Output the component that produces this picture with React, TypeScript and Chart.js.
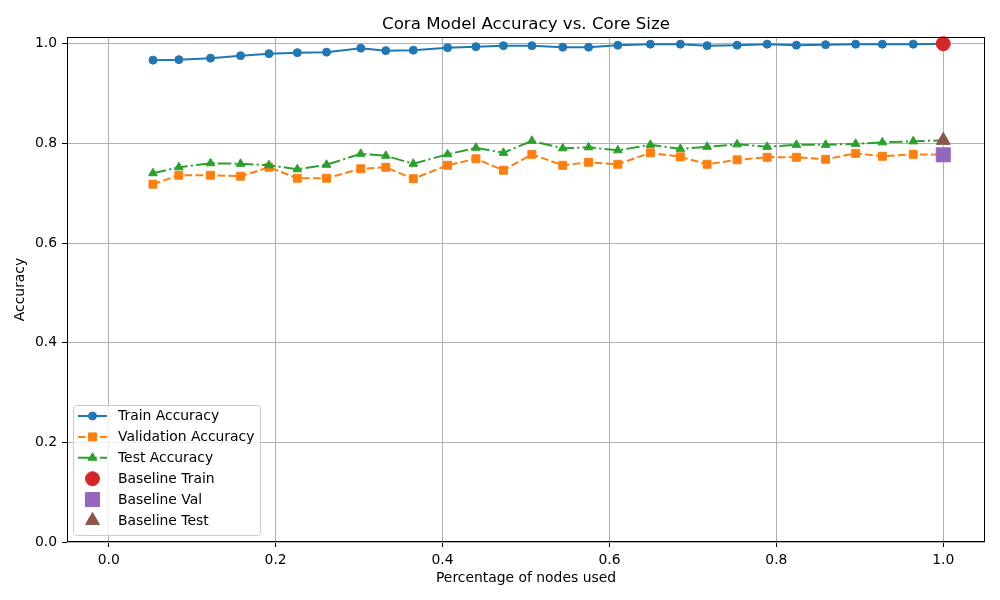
import React, { useEffect, useRef } from 'react';
import { Chart, registerables } from 'chart.js';
import { drawPoint } from 'chart.js/helpers';

Chart.register(...registerables);

const coreFractions = [0.053, 0.084, 0.122, 0.158, 0.192, 0.226, 0.261, 0.302, 0.332, 0.365, 0.406, 0.440, 0.473, 0.507, 0.544, 0.575, 0.610, 0.649, 0.685, 0.717, 0.753, 0.789, 0.824, 0.859, 0.895, 0.927, 0.964, 1.0];
const trainAcc = [0.967, 0.968, 0.971, 0.976, 0.980, 0.982, 0.983, 0.991, 0.986, 0.987, 0.992, 0.994, 0.996, 0.996, 0.993, 0.993, 0.997, 0.999, 0.999, 0.996, 0.997, 0.999, 0.997, 0.998, 0.999, 0.999, 0.999, 1.0];
const valAcc = [0.718, 0.736, 0.736, 0.734, 0.752, 0.730, 0.730, 0.749, 0.752, 0.729, 0.756, 0.769, 0.746, 0.778, 0.756, 0.762, 0.758, 0.781, 0.773, 0.758, 0.767, 0.772, 0.772, 0.768, 0.780, 0.774, 0.778, 0.777];
const testAcc = [0.740, 0.752, 0.760, 0.759, 0.756, 0.748, 0.757, 0.779, 0.775, 0.759, 0.778, 0.791, 0.781, 0.805, 0.790, 0.792, 0.786, 0.797, 0.789, 0.793, 0.798, 0.793, 0.797, 0.797, 0.799, 0.802, 0.804, 0.806];
const baselineX = 1.0;
const baselineTrain = 1.0;
const baselineVal = 0.777;
const baselineTest = 0.806;
const xTicks = [0, 0.2, 0.4, 0.6, 0.8, 1.0];
const yTicks = [0, 0.2, 0.4, 0.6, 0.8, 1.0];

const FONT = 'DejaVu Sans';

const toPts = (ys: number[]) => ys.map((y, i) => ({ x: coreFractions[i], y }));

const framePlugin = {
  id: 'mplFrame',
  afterDatasetsDraw(chart: any) {
    const { ctx, chartArea } = chart;
    ctx.save();
    ctx.strokeStyle = '#000';
    ctx.lineWidth = 1;
    ctx.strokeRect(chartArea.left + 0.5, chartArea.top + 0.5, chartArea.right - chartArea.left - 1, chartArea.bottom - chartArea.top - 1);
    ctx.restore();
  },
};

const legendPlugin = {
  id: 'mplLegend',
  afterDraw(chart: any) {
    const ctx = chart.ctx as CanvasRenderingContext2D;
    const x0 = 73.5, y0 = 405.5, w = 187, h = 130;
    ctx.save();
    ctx.beginPath();
    (ctx as any).roundRect(x0, y0, w, h, 3);
    ctx.fillStyle = 'rgba(255,255,255,0.8)';
    ctx.fill();
    ctx.strokeStyle = '#cccccc';
    ctx.lineWidth = 1;
    ctx.stroke();
    chart.data.datasets.forEach((ds: any, i: number) => {
      const cy = 416 + i * 20.9;
      if (ds.showLine !== false) {
        ctx.beginPath();
        ctx.setLineDash(ds.borderDash || []);
        ctx.lineWidth = ds.borderWidth;
        ctx.strokeStyle = ds.borderColor;
        ctx.moveTo(78, cy);
        ctx.lineTo(107, cy);
        ctx.stroke();
        ctx.setLineDash([]);
      }
      ctx.fillStyle = ds.pointBackgroundColor;
      ctx.strokeStyle = ds.pointBorderColor;
      ctx.lineWidth = ds.pointBorderWidth;
      drawPoint(ctx, { pointStyle: ds.pointStyle, radius: ds.pointRadius, rotation: 0, borderWidth: ds.pointBorderWidth } as any, 92.5, cy);
      ctx.fillStyle = '#000';
      ctx.font = `13.9px "${FONT}"`;
      ctx.textBaseline = 'middle';
      ctx.textAlign = 'left';
      ctx.fillText(ds.label, 118, cy + 0.5);
    });
    ctx.restore();
  },
};

export default function App() {
  const ref = useRef<HTMLCanvasElement | null>(null);
  useEffect(() => {
    if (!ref.current) return;
    const lineDs = (label: string, data: number[], color: string, style: string, radius: number, dash: number[], order: number) => ({
      type: 'line' as const,
      label,
      data: toPts(data),
      borderColor: color,
      backgroundColor: color,
      borderWidth: 2,
      borderDash: dash,
      pointStyle: style,
      pointRadius: radius,
      pointHoverRadius: radius,
      pointBackgroundColor: color,
      pointBorderColor: color,
      pointBorderWidth: 1,
      tension: 0,
      fill: false,
      order,
    });
    const baseDs = (label: string, y: number, color: string, style: string, radius: number) => ({
      type: 'line' as const,
      label,
      data: [{ x: baselineX, y }],
      showLine: false,
      borderColor: color,
      backgroundColor: color,
      borderWidth: 0,
      pointStyle: style,
      pointRadius: radius,
      pointHoverRadius: radius,
      pointBackgroundColor: color,
      pointBorderColor: color,
      pointBorderWidth: 1,
      clip: false as any,
      order: 0,
    });
    const tickFont = { family: FONT, size: 13.9 };
    const chart = new Chart(ref.current, {
      type: 'line',
      data: {
        datasets: [
          lineDs('Train Accuracy', trainAcc, '#1f77b4', 'circle', 4, [], 3),
          lineDs('Validation Accuracy', valAcc, '#ff7f0e', 'rect', 5.6, [7.7, 3.3], 2),
          lineDs('Test Accuracy', testAcc, '#2ca02c', 'triangle', 5, [13.3, 3.3, 2.1, 3.3], 1),
          baseDs('Baseline Train', baselineTrain, '#d62728', 'circle', 7),
          baseDs('Baseline Val', baselineVal, '#9467bd', 'rect', 9.9),
          baseDs('Baseline Test', baselineTest, '#8c564b', 'triangle', 8),
        ] as any,
      },
      options: {
        animation: false,
        responsive: false,
        devicePixelRatio: 1,
        layout: { padding: { left: 0, right: 15, top: 0, bottom: 0 } },
        plugins: {
          legend: { display: false },
          tooltip: { enabled: false },
          title: {
            display: true,
            text: 'Cora Model Accuracy vs. Core Size',
            fullSize: false,
            color: '#000',
            font: { family: FONT, size: 16.67, weight: 'normal' },
            padding: { top: 14.5, bottom: 2.5 },
          },
        },
        scales: {
          x: {
            type: 'linear',
            min: -0.05,
            max: 1.05,
            afterBuildTicks: (s: any) => { s.ticks = xTicks.map((v) => ({ value: v })); },
            afterFit: (s: any) => { s.height = 58; },
            ticks: { color: '#000', font: tickFont, padding: 5, maxRotation: 0, autoSkip: false, callback: (v: any) => Number(v).toFixed(1) },
            grid: { color: '#b0b0b0', lineWidth: 1, tickLength: 5, tickColor: '#000', tickWidth: 1 },
            border: { display: false },
            title: { display: true, text: 'Percentage of nodes used', color: '#000', font: tickFont, padding: { top: 4, bottom: 13.2 } },
          },
          y: {
            type: 'linear',
            min: 0,
            max: 1.0134,
            afterBuildTicks: (s: any) => { s.ticks = yTicks.map((v) => ({ value: v })); },
            afterFit: (s: any) => { s.width = 67; },
            ticks: { color: '#000', font: tickFont, padding: 5, autoSkip: false, callback: (v: any) => Number(v).toFixed(1) },
            grid: { color: '#b0b0b0', lineWidth: 1, tickLength: 5, tickColor: '#000', tickWidth: 1 },
            border: { display: false },
            title: { display: true, text: 'Accuracy', color: '#000', font: tickFont, padding: { top: 11.66, bottom: 4 } },
          },
        },
      } as any,
      plugins: [framePlugin, legendPlugin],
    });
    return () => chart.destroy();
  }, []);
  return (
    <div style={{ position: 'absolute', left: 0, top: 0, width: 1000, height: 600, background: '#fff' }}>
      <canvas ref={ref} width={1000} height={600} />
    </div>
  );
}
